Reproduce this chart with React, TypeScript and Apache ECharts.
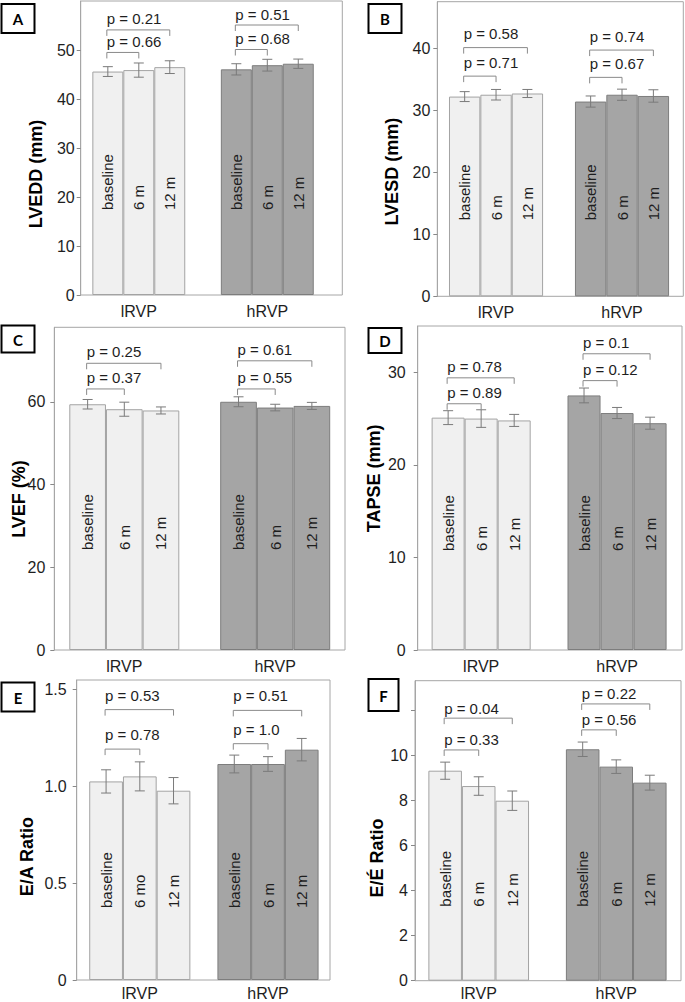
import React, { useEffect, useRef } from "react";
import * as echarts from "echarts";

// ---------------- DATA ----------------
const groups = ["lRVP", "hRVP"];
const timeLabels = ["baseline", "6 m", "12 m"];
const timeLabelsEaLow = ["baseline", "6 mo", "12 m"];

// A: LVEDD (mm)
const lveddLow = [45.6, 45.9, 46.5];
const lveddLowErr = [1.0, 1.45, 1.3];
const lveddHigh = [46.05, 46.9, 47.2];
const lveddHighErr = [1.15, 1.2, 0.95];
const lveddTicks = [0, 10, 20, 30, 40, 50];
const lveddLabels = [0, 10, 20, 30, 40, 50];
const lveddP = [
  { group: 0, to: 1, level: 49.5, text: "p = 0.66" },
  { group: 0, to: 2, level: 54.1, text: "p = 0.21" },
  { group: 1, to: 1, level: 50.1, text: "p = 0.68" },
  { group: 1, to: 2, level: 55.1, text: "p = 0.51" },
];

// B: LVESD (mm)
const lvesdLow = [32.2, 32.5, 32.7];
const lvesdLowErr = [0.8, 0.85, 0.65];
const lvesdHigh = [31.4, 32.5, 32.3];
const lvesdHighErr = [0.9, 0.9, 1.0];
const lvesdTicks = [0, 10, 20, 30, 40];
const lvesdLabels = [0, 10, 20, 30, 40];
const lvesdP = [
  { group: 0, to: 1, level: 35.5, text: "p = 0.71" },
  { group: 0, to: 2, level: 40.1, text: "p = 0.58" },
  { group: 1, to: 1, level: 35.3, text: "p = 0.67" },
  { group: 1, to: 2, level: 39.7, text: "p = 0.74" },
];

// C: LVEF (%)
const lvefLow = [59.4, 58.2, 57.9];
const lvefLowErr = [1.15, 1.7, 0.85];
const lvefHigh = [60.0, 58.6, 59.0];
const lvefHighErr = [1.2, 0.8, 0.85];
const lvefTicks = [0, 20, 40, 60];
const lvefLabels = [0, 20, 40, 60];
const lvefP = [
  { group: 0, to: 1, level: 63.1, text: "p = 0.37" },
  { group: 0, to: 2, level: 69.3, text: "p = 0.25" },
  { group: 1, to: 1, level: 63.1, text: "p = 0.55" },
  { group: 1, to: 2, level: 69.9, text: "p = 0.61" },
];

// D: TAPSE (mm)
const tapseLow = [25.1, 25.0, 24.8];
const tapseLowErr = [0.75, 0.95, 0.65];
const tapseHigh = [27.5, 25.6, 24.5];
const tapseHighErr = [0.8, 0.6, 0.65];
const tapseTicks = [0, 10, 20, 30];
const tapseLabels = [0, 10, 20, 30];
const tapseP = [
  { group: 0, to: 1, level: 26.6, text: "p = 0.89" },
  { group: 0, to: 2, level: 29.4, text: "p = 0.78" },
  { group: 1, to: 1, level: 29.1, text: "p = 0.12" },
  { group: 1, to: 2, level: 32.0, text: "p = 0.1" },
];

// E: E/A Ratio
const eaLow = [1.026, 1.052, 0.978];
const eaLowErr = [0.06, 0.075, 0.068];
const eaHigh = [1.116, 1.116, 1.19];
const eaHighErr = [0.046, 0.038, 0.058];
const eaTicks = [0, 0.5, 1.0, 1.5];
const eaLabels = [0, 0.5, 1.0, 1.5];
const eaP = [
  { group: 0, to: 1, level: 1.193, text: "p = 0.78" },
  { group: 0, to: 2, level: 1.397, text: "p = 0.53" },
  { group: 1, to: 1, level: 1.221, text: "p = 1.0" },
  { group: 1, to: 2, level: 1.393, text: "p = 0.51" },
];

// F: E/É Ratio
const eeLow = [9.31, 8.63, 7.98];
const eeLowErr = [0.38, 0.41, 0.43];
const eeHigh = [10.26, 9.49, 8.78];
const eeHighErr = [0.32, 0.3, 0.33];
const eeTicks = [0, 2, 4, 6, 8, 10, 12];
const eeLabels = [0, 2, 4, 6, 8, 10];
const eeP = [
  { group: 0, to: 1, level: 10.23, text: "p = 0.33" },
  { group: 0, to: 2, level: 11.64, text: "p = 0.04" },
  { group: 1, to: 1, level: 11.12, text: "p = 0.56" },
  { group: 1, to: 2, level: 12.27, text: "p = 0.22" },
];

// ---------------- STYLE / LAYOUT ----------------
const FONT = '"Liberation Sans", Arial, sans-serif';
const TEXT = "#1e1e1e";
const FRAME = "#a6a6a6";
const LIGHT = { color: "#f0f0f0", borderColor: "#a3a3a3", borderWidth: 1 };
const DARK = { color: "#a5a5a5", borderColor: "#7d7d7d", borderWidth: 1 };
const ERR = "#7a7a7a";
const BRK = "#8a8a8a";

const intFmt = (v: number) => String(v);
const eaFmt = (v: number) => (v === 0 ? "0" : v.toFixed(1));

const panels = [
  {
    letter: "A", name: "LVEDD (mm)", low: lveddLow, lowErr: lveddLowErr, high: lveddHigh, highErr: lveddHighErr,
    ticks: lveddTicks, labels: lveddLabels, max: 60, brackets: lveddP, lowText: timeLabels, highText: timeLabels, fmt: intFmt,
    L: { fl: 80.7, ft: 1, fr: 342.3, fb: 295, bl: 74.55, bw: 257, frac: 0.241, labelDist: 85, tickMargin: 6, catMargin: 8,
      nx: 35.5, ny: 174, box: [1.5, 4, 33, 29], gap: 11 },
  },
  {
    letter: "B", name: "LVESD (mm)", low: lvesdLow, lowErr: lvesdLowErr, high: lvesdHigh, highErr: lvesdHighErr,
    ticks: lvesdTicks, labels: lvesdLabels, max: 47.5, brackets: lvesdP, lowText: timeLabels, highText: timeLabels, fmt: intFmt,
    L: { fl: 437.3, ft: 1.7, fr: 683.3, fb: 296.3, bl: 433.05, bw: 255, frac: 0.249, labelDist: 76, tickMargin: 7, catMargin: 8,
      nx: 392, ny: 171.7, box: [368.5, 4, 33, 29], gap: 14 },
  },
  {
    letter: "C", name: "LVEF (%)", low: lvefLow, lowErr: lvefLowErr, high: lvefHigh, highErr: lvefHighErr,
    ticks: lvefTicks, labels: lvefLabels, max: 78, brackets: lvefP, lowText: timeLabels, highText: timeLabels, fmt: intFmt,
    L: { fl: 54.3, ft: 327.3, fr: 345, fb: 650, bl: 48.85, bw: 301.8, frac: 0.243, labelDist: 100, tickMargin: 9, catMargin: 8,
      nx: 19, ny: 499, box: [1.5, 325.5, 33, 27], gap: 11.5 },
  },
  {
    letter: "D", name: "TAPSE (mm)", low: tapseLow, lowErr: tapseLowErr, high: tapseHigh, highErr: tapseHighErr,
    ticks: tapseTicks, labels: tapseLabels, max: 35, brackets: tapseP, lowText: timeLabels, highText: timeLabels, fmt: intFmt,
    L: { fl: 417.7, ft: 326, fr: 682, fb: 650, bl: 413.2, bw: 276, frac: 0.243, labelDist: 99, tickMargin: 12, catMargin: 8,
      nx: 374, ny: 478.3, box: [368.5, 328, 33, 25], gap: 11 },
  },
  {
    letter: "E", name: "E/A Ratio", low: eaLow, lowErr: eaLowErr, high: eaHigh, highErr: eaHighErr,
    ticks: eaTicks, labels: eaLabels, max: 1.55, brackets: eaP, lowText: timeLabelsEaLow, highText: timeLabels, fmt: eaFmt,
    L: { fl: 76.7, ft: 680, fr: 330, fb: 980, bl: 75.7, bw: 256.4, frac: 0.263, labelDist: 72, tickMargin: 10, catMargin: 5,
      nx: 26.5, ny: 856.7, box: [1.5, 682.5, 33, 29], gap: 14.5 },
  },
  {
    letter: "F", name: "E/É Ratio", low: eeLow, lowErr: eeLowErr, high: eeHigh, highErr: eeHighErr,
    ticks: eeTicks, labels: eeLabels, max: 13.3, brackets: eeP, lowText: timeLabels, highText: timeLabels, fmt: intFmt,
    L: { fl: 415, ft: 680.7, fr: 681, fb: 980.7, bl: 409.95, bw: 281.4, frac: 0.244, labelDist: 74, tickMargin: 7, catMargin: 5,
      nx: 376.5, ny: 858, box: [368.5, 679, 30, 32], gap: 10 },
  },
];

function buildOption() {
  const grid: any[] = [];
  const xAxis: any[] = [];
  const yAxis: any[] = [];
  const series: any[] = [];
  const graphic: any[] = [];

  panels.forEach((p, i) => {
    const L = p.L;
    const h = L.fb - L.ft;
    // bars grid
    grid.push({ left: L.bl, top: L.ft, width: L.bw, height: h });
    // frame grid
    grid.push({
      left: L.fl, top: L.ft, width: L.fr - L.fl, height: h,
      show: true, borderColor: FRAME, borderWidth: 1, backgroundColor: "transparent",
    });
    const bx = 2 * i;
    const fx = 2 * i + 1;
    xAxis.push({
      gridIndex: bx, type: "category", data: groups,
      axisLine: { show: false }, axisTick: { show: false },
      axisLabel: { margin: L.catMargin, fontSize: 16, color: TEXT, fontFamily: FONT },
    });
    yAxis.push({ gridIndex: bx, type: "value", min: 0, max: p.max, show: false });
    xAxis.push({ gridIndex: fx, type: "value", min: 0, max: 1, show: false });
    yAxis.push({
      gridIndex: fx, type: "value", min: 0, max: p.max,
      axisLine: { show: true, lineStyle: { color: FRAME } },
      axisTick: { show: true, length: 4, lineStyle: { color: "#888" }, customValues: p.ticks },
      axisLabel: {
        customValues: p.labels, formatter: p.fmt, margin: L.tickMargin,
        fontSize: 16, color: TEXT, fontFamily: FONT,
      },
      splitLine: { show: false },
    });

    const frac = L.frac;
    timeLabels.forEach((_, k) => {
      series.push({
        type: "bar", xAxisIndex: bx, yAxisIndex: bx,
        barWidth: `${frac * 100}%`, barGap: "0%", z: 2,
        label: {
          show: true, position: "insideBottom", distance: L.labelDist, rotate: 90,
          align: "left", verticalAlign: "middle",
          fontSize: 15, color: TEXT, fontFamily: FONT,
        },
        data: [
          { value: p.low[k], itemStyle: LIGHT, label: { formatter: p.lowText[k] } },
          { value: p.high[k], itemStyle: DARK, label: { formatter: p.highText[k] } },
        ],
      });
    });

    // error bars
    const errData: number[][] = [];
    timeLabels.forEach((_, k) => {
      errData.push([0, k, p.low[k], p.lowErr[k]]);
      errData.push([1, k, p.high[k], p.highErr[k]]);
    });
    series.push({
      type: "custom", xAxisIndex: bx, yAxisIndex: bx, z: 4,
      encode: { x: 0, y: 2 },
      data: errData,
      renderItem: (params: any, api: any) => {
        const g = api.value(0), k = api.value(1), m = api.value(2), e = api.value(3);
        const band = api.size([1, 0])[0];
        const w = band * frac;
        const c = api.coord([g, m]);
        const x = c[0] + (k - 1) * w;
        const yt = api.coord([g, m + e])[1];
        const yb = api.coord([g, m - e])[1];
        const cap = 5;
        const st = { stroke: ERR, lineWidth: 1 };
        return {
          type: "group",
          children: [
            { type: "line", shape: { x1: x, y1: yt, x2: x, y2: yb }, style: st },
            { type: "line", shape: { x1: x - cap, y1: yt, x2: x + cap, y2: yt }, style: st },
            { type: "line", shape: { x1: x - cap, y1: yb, x2: x + cap, y2: yb }, style: st },
          ],
        };
      },
    });

    // significance brackets
    const brData = p.brackets.map((b) => [b.group, 0, b.to, b.level]);
    const brTexts = p.brackets.map((b) => b.text);
    series.push({
      type: "custom", xAxisIndex: bx, yAxisIndex: bx, z: 5,
      encode: { x: 0, y: 3 },
      data: brData,
      renderItem: (params: any, api: any) => {
        const g = api.value(0), a = api.value(1), b = api.value(2), lv = api.value(3);
        const band = api.size([1, 0])[0];
        const w = band * frac;
        const c = api.coord([g, lv]);
        const x1 = c[0] + (a - 1) * w - 1;
        const x2 = c[0] + (b - 1) * w;
        const y = c[1];
        return {
          type: "group",
          children: [
            {
              type: "polyline",
              shape: { points: [[x1, y + 6], [x1, y], [x2, y], [x2, y + 6]] },
              style: { stroke: BRK, lineWidth: 1, fill: "none" },
            },
            {
              type: "text",
              x: x1, y: y - L.gap,
              style: {
                text: brTexts[params.dataIndex], fill: TEXT,
                font: `15px ${FONT}`,
                align: "left", verticalAlign: "middle",
                textAlign: "left", textVerticalAlign: "middle",
              },
            },
          ],
        };
      },
    });

    // letter box
    graphic.push({
      type: "rect",
      shape: { x: L.box[0], y: L.box[1], width: L.box[2], height: L.box[3] },
      style: { fill: "#fff", stroke: "#000", lineWidth: 2 },
      z: 10,
    });
    graphic.push({
      type: "text",
      x: L.box[0] + L.box[2] / 2, y: L.box[1] + L.box[3] / 2 + 0.5,
      style: {
        text: p.letter, fill: "#000", font: `bold 15px Lato, "Open Sans", sans-serif`,
        align: "center", verticalAlign: "middle", textAlign: "center", textVerticalAlign: "middle",
      },
      z: 11,
    });
    // y-axis name
    graphic.push({
      type: "text",
      x: L.nx, y: L.ny, rotation: Math.PI / 2,
      style: {
        text: p.name, fill: "#000", font: `bold 18px ${FONT}`,
        align: "center", verticalAlign: "middle", textAlign: "center", textVerticalAlign: "middle",
      },
      z: 10,
    });
  });

  return {
    animation: false,
    backgroundColor: "#ffffff",
    grid, xAxis, yAxis, series, graphic,
  };
}

export default function App() {
  const ref = useRef<HTMLDivElement>(null);
  useEffect(() => {
    document.body.style.margin = "0";
    if (!ref.current) return;
    const chart = echarts.init(ref.current, undefined, { renderer: "svg" });
    chart.setOption(buildOption() as any);
    return () => chart.dispose();
  }, []);
  return <div ref={ref} style={{ width: 685, height: 1002 }} />;
}
